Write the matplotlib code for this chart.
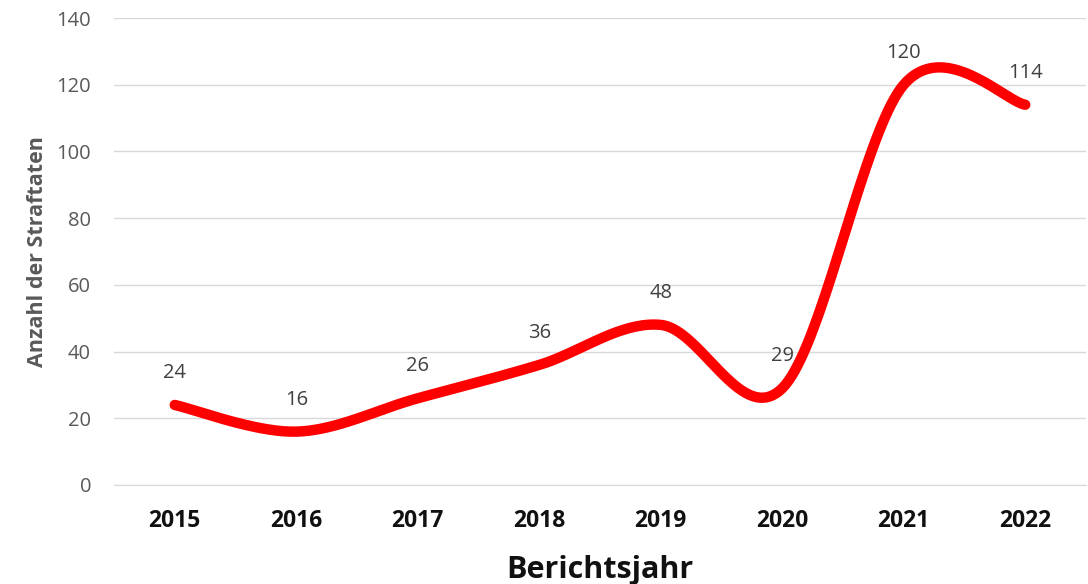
import numpy as np
import matplotlib
matplotlib.use("Agg")
import matplotlib.pyplot as plt

years = ["2015", "2016", "2017", "2018", "2019", "2020", "2021", "2022"]
values = [24, 16, 26, 36, 48, 29, 120, 114]
y_ticks = [0, 20, 40, 60, 80, 100, 120, 140]

plt.rcParams['font.family'] = ['Open Sans', 'DejaVu Sans']
GRAY = '#595959'

def smooth_curve(xs, ys, n=40):
    xs = np.asarray(xs, float); ys = np.asarray(ys, float)
    px = np.concatenate([[xs[0]], xs, [xs[-1]]])
    py = np.concatenate([[ys[0]], ys, [ys[-1]]])
    outx, outy = [], []
    t = np.linspace(0, 1, n)
    for i in range(1, len(px) - 2):
        p0 = np.array([px[i], py[i]]); p3 = np.array([px[i + 1], py[i + 1]])
        c1 = p0 + (np.array([px[i + 1], py[i + 1]]) - np.array([px[i - 1], py[i - 1]])) / 6
        c2 = p3 - (np.array([px[i + 2], py[i + 2]]) - np.array([px[i], py[i]])) / 6
        b = ((1 - t)[:, None] ** 3 * p0 + 3 * ((1 - t) ** 2 * t)[:, None] * c1
             + 3 * ((1 - t) * t ** 2)[:, None] * c2 + (t ** 3)[:, None] * p3)
        outx.extend(b[:, 0]); outy.extend(b[:, 1])
    return np.array(outx), np.array(outy)

fig = plt.figure(figsize=(10.88, 5.84), dpi=100)
ax = fig.add_axes([114 / 1088, 99 / 584, 972 / 1088, 467 / 584])

x = np.arange(len(years))
sx, sy = smooth_curve(x, values)
ax.plot(sx, sy, color='#FF0000', lw=7.5, solid_capstyle='round', zorder=3)

for xi, v in zip(x, values):
    ax.annotate(str(v), (xi, v), xytext=(0, 23), textcoords='offset points',
                ha='center', va='center', fontsize=14.5, color='#404040')

ax.set_xlim(-0.5, len(years) - 0.5)
ax.set_ylim(0, 140)
ax.set_yticks(y_ticks)
ax.set_xticks(x)
ax.set_xticklabels(years, fontweight='bold', fontsize=16.5, color='#111111')
ax.tick_params(axis='y', labelsize=14.5, labelcolor=GRAY, length=0, pad=16.5)
ax.tick_params(axis='x', length=0, pad=17)
ax.grid(axis='y', color='#D9D9D9', lw=1)
ax.set_axisbelow(True)
for s in ['top', 'right', 'left']:
    ax.spines[s].set_visible(False)
ax.spines['bottom'].set_color('#D9D9D9')

ax.set_xlabel('Berichtsjahr', fontsize=22, fontweight='bold', color='#111111', labelpad=16)
ax.set_ylabel('Anzahl der Straftaten', fontsize=15.5, fontweight='bold', color=GRAY, labelpad=6)

fig.savefig('out.png', dpi=100)
